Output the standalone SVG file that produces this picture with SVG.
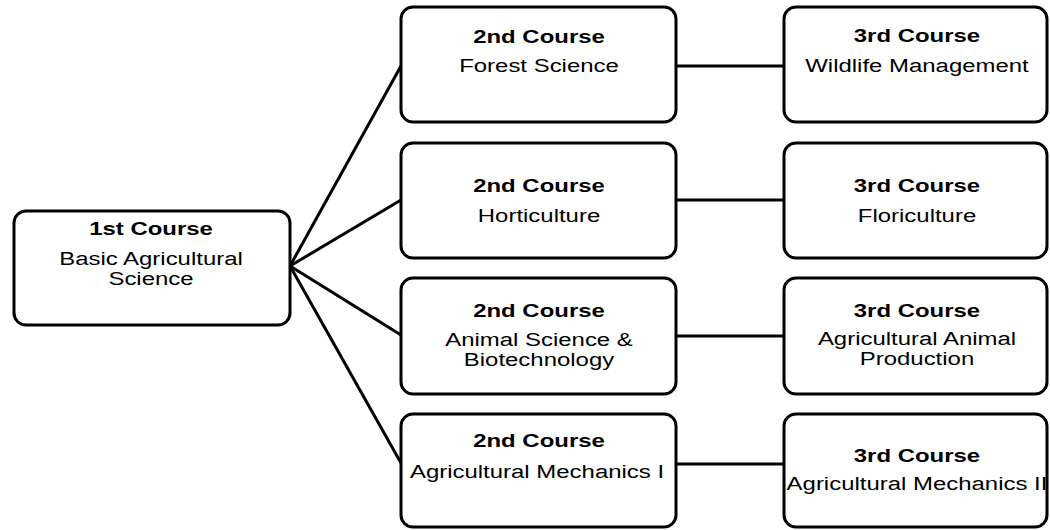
<svg xmlns="http://www.w3.org/2000/svg" width="1050" height="530" viewBox="0 0 1050 530">
<style>
.box{fill:#fff;stroke:#000;stroke-width:3}
.ln{stroke:#000;stroke-width:3;fill:none}
text{font-family:"Liberation Sans",Arial,sans-serif;font-size:19px;fill:#000;text-anchor:middle}
.h{font-weight:bold}
</style>
<rect width="1050" height="530" fill="#fff"/>
<g id="connectors">
<line class="ln" x1="290" y1="266" x2="401" y2="66"/>
<line class="ln" x1="290" y1="266" x2="401" y2="200"/>
<line class="ln" x1="290" y1="266" x2="401" y2="335"/>
<line class="ln" x1="290" y1="266" x2="401" y2="463"/>
<line class="ln" x1="676" y1="66" x2="784" y2="66"/>
<line class="ln" x1="676" y1="200" x2="784" y2="200"/>
<line class="ln" x1="676" y1="336" x2="784" y2="336"/>
<line class="ln" x1="676" y1="464" x2="784" y2="464"/>
</g>
<g id="n1">
<rect class="box" x="14" y="211" width="276" height="114" rx="12"/>
<text class="h" transform="translate(151,235) scale(1.26,1)">1st Course</text>
<text transform="translate(151,265) scale(1.26,1)">Basic Agricultural</text>
<text transform="translate(151,285) scale(1.26,1)">Science</text>
</g>
<g id="n2a">
<rect class="box" x="401" y="7" width="275" height="115" rx="12"/>
<text class="h" transform="translate(539,43) scale(1.26,1)">2nd Course</text>
<text transform="translate(539,72) scale(1.26,1)">Forest Science</text>
</g>
<g id="n2b">
<rect class="box" x="401" y="143" width="275" height="115" rx="12"/>
<text class="h" transform="translate(539,192) scale(1.26,1)">2nd Course</text>
<text transform="translate(539,222) scale(1.26,1)">Horticulture</text>
</g>
<g id="n2c">
<rect class="box" x="401" y="278" width="275" height="116" rx="12"/>
<text class="h" transform="translate(539,317) scale(1.26,1)">2nd Course</text>
<text transform="translate(539,346) scale(1.26,1)">Animal Science &amp;</text>
<text transform="translate(539,366) scale(1.26,1)">Biotechnology</text>
</g>
<g id="n2d">
<rect class="box" x="401" y="414" width="275" height="113" rx="12"/>
<text class="h" transform="translate(539,447) scale(1.26,1)">2nd Course</text>
<text transform="translate(537,478) scale(1.26,1)">Agricultural Mechanics I</text>
</g>
<g id="n3a">
<rect class="box" x="784" y="7" width="263" height="115" rx="12"/>
<text class="h" transform="translate(917,42) scale(1.26,1)">3rd Course</text>
<text transform="translate(917,72) scale(1.26,1)">Wildlife Management</text>
</g>
<g id="n3b">
<rect class="box" x="784" y="143" width="263" height="115" rx="12"/>
<text class="h" transform="translate(917,192) scale(1.26,1)">3rd Course</text>
<text transform="translate(917,222) scale(1.26,1)">Floriculture</text>
</g>
<g id="n3c">
<rect class="box" x="784" y="278" width="263" height="116" rx="12"/>
<text class="h" transform="translate(917,317) scale(1.26,1)">3rd Course</text>
<text transform="translate(917,345) scale(1.26,1)">Agricultural Animal</text>
<text transform="translate(917,365) scale(1.26,1)">Production</text>
</g>
<g id="n3d">
<rect class="box" x="784" y="414" width="263" height="113" rx="12"/>
<text class="h" transform="translate(917,462) scale(1.26,1)">3rd Course</text>
<text transform="translate(917,490) scale(1.26,1)">Agricultural Mechanics II</text>
</g>
</svg>
